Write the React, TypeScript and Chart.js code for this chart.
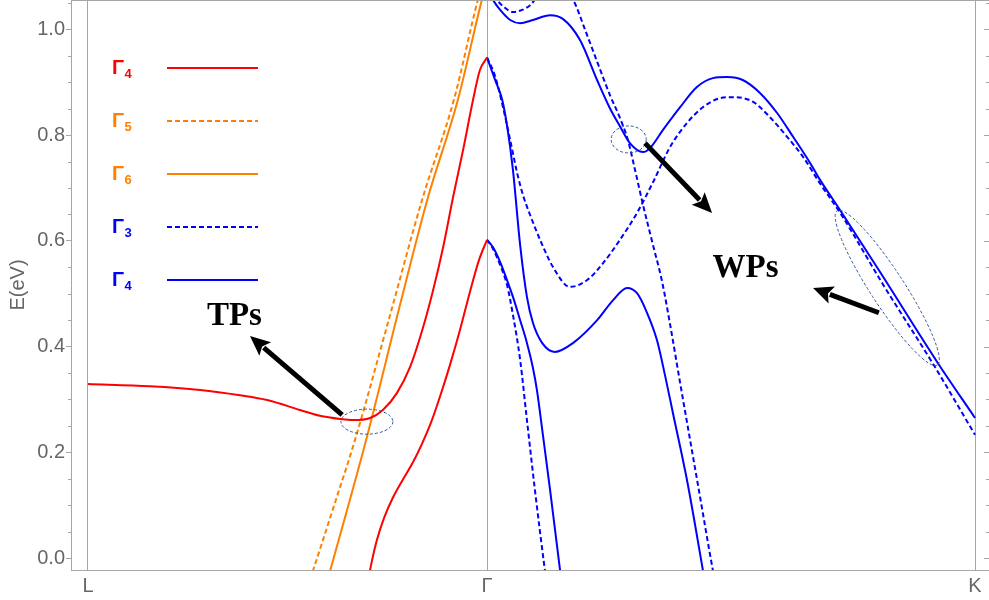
import { useEffect, useRef } from 'react';
import { Chart, registerables } from 'chart.js';

Chart.register(...registerables);

// ---- axes ----
const K_POS = 2.223;
const xTickValues = [0, 1, K_POS];
const xTickLabels = ['L', 'Γ', 'K'];
const yTickValues = [0, 0.2, 0.4, 0.6, 0.8, 1.0];
const yMinorStep = 0.05;

// ---- band data (x: k-path position, L=0, Γ=1, K=2.223; y: E in eV) ----
// Γ4 (red) upper band L–Γ
const redUpperX = [0, 0.155, 0.281, 0.381, 0.449, 0.531, 0.581, 0.632, 0.664, 0.707, 0.739, 0.774, 0.807, 0.840, 0.865, 0.890, 0.915, 0.940, 0.965, 0.982, 1.0];
const redUpperY = [0.329, 0.325, 0.318, 0.308, 0.299, 0.280, 0.269, 0.263, 0.261, 0.265, 0.280, 0.312, 0.361, 0.437, 0.507, 0.588, 0.683, 0.772, 0.867, 0.923, 0.947];
// Γ4 (red) lower band L–Γ
const redLowerX = [0.702, 0.712, 0.724, 0.742, 0.764, 0.789, 0.815, 0.837, 0.860, 0.882, 0.907, 0.932, 0.957, 0.980, 1.0];
const redLowerY = [-0.042, -0.004, 0.034, 0.076, 0.114, 0.148, 0.182, 0.216, 0.257, 0.305, 0.365, 0.431, 0.503, 0.564, 0.602];
// Γ5 (orange, dashed)
const orangeDashX = [0.557, 0.617, 0.669, 0.752, 0.837, 0.917, 0.977, 0.987];
const orangeDashY = [-0.04, 0.100, 0.223, 0.446, 0.677, 0.867, 1.056, 1.082];
// Γ6 (orange, solid)
const orangeSolidX = [0.600, 0.699, 0.782, 0.850, 0.927, 0.987, 0.995];
const orangeSolidY = [-0.043, 0.229, 0.479, 0.677, 0.867, 1.056, 1.078];
// Γ4 (blue) lower band Γ–K
const blueLowerSolidX = [1.0, 1.015, 1.033, 1.050, 1.065, 1.083, 1.100, 1.115, 1.125, 1.140, 1.158, 1.183, 1.187];
const blueLowerSolidY = [0.602, 0.588, 0.560, 0.526, 0.494, 0.450, 0.407, 0.360, 0.318, 0.233, 0.129, -0.023, -0.045];
// Γ3 (blue, dashed) lower band Γ–K
const blueLowerDashX = [1.0, 1.015, 1.033, 1.050, 1.065, 1.083, 1.100, 1.120, 1.145, 1.149];
const blueLowerDashY = [0.602, 0.585, 0.554, 0.517, 0.460, 0.375, 0.261, 0.129, -0.023, -0.045];
// Γ4 (blue) middle band Γ–K
const blueMidSolidX = [1.000, 1.020, 1.038, 1.050, 1.065, 1.083, 1.100, 1.115, 1.138, 1.170, 1.216, 1.276, 1.316, 1.351, 1.376, 1.401, 1.426, 1.446, 1.466, 1.501, 1.541, 1.546];
const blueMidSolidY = [0.947, 0.905, 0.867, 0.819, 0.734, 0.592, 0.494, 0.445, 0.407, 0.390, 0.407, 0.450, 0.488, 0.511, 0.501, 0.464, 0.412, 0.346, 0.274, 0.148, -0.023, -0.045];
// Γ3 (blue, dashed) middle band Γ–K
const blueMidDashX = [1.000, 1.020, 1.040, 1.058, 1.075, 1.090, 1.108, 1.133, 1.165, 1.208, 1.251, 1.291, 1.333, 1.376, 1.416, 1.459, 1.501, 1.541, 1.584, 1.617, 1.667, 1.709, 1.752, 1.792, 1.835, 1.885, 1.992, 2.118, 2.223];
const blueMidDashY = [0.947, 0.912, 0.853, 0.791, 0.730, 0.687, 0.649, 0.602, 0.551, 0.513, 0.526, 0.558, 0.602, 0.653, 0.711, 0.778, 0.823, 0.853, 0.870, 0.872, 0.863, 0.834, 0.797, 0.759, 0.708, 0.653, 0.518, 0.367, 0.233];
// Γ4 (blue) upper band Γ–K
const blueTopSolidX = [1.000, 1.015, 1.033, 1.058, 1.083, 1.115, 1.158, 1.190, 1.233, 1.276, 1.308, 1.333, 1.358, 1.391, 1.409, 1.441, 1.484, 1.526, 1.566, 1.602, 1.642, 1.684, 1.727, 1.767, 1.810, 1.835, 1.885, 1.985, 2.128, 2.223];
const blueTopSolidY = [1.078, 1.056, 1.037, 1.018, 1.012, 1.018, 1.027, 1.020, 0.980, 0.904, 0.851, 0.817, 0.785, 0.768, 0.776, 0.810, 0.853, 0.891, 0.908, 0.910, 0.904, 0.880, 0.842, 0.797, 0.747, 0.715, 0.658, 0.541, 0.371, 0.265];
// Γ3 (blue, dashed) upper band Γ–K
const blueTopDashX = [1.008, 1.025, 1.045, 1.065, 1.088, 1.108, 1.120, 1.145, 1.170, 1.195, 1.216, 1.246, 1.276, 1.308, 1.333, 1.353, 1.371, 1.391, 1.414, 1.439, 1.459, 1.484, 1.509, 1.534, 1.566, 1.574];
const blueTopDashY = [1.078, 1.056, 1.041, 1.033, 1.037, 1.046, 1.056, 1.075, 1.084, 1.075, 1.056, 0.999, 0.939, 0.876, 0.833, 0.791, 0.734, 0.668, 0.598, 0.522, 0.441, 0.331, 0.223, 0.115, -0.023, -0.053];

const RED = '#ff0000';
const ORANGE = '#ff8000';
const BLUE = '#0000ff';
const AXIS_GRAY = '#a6a6a6';
const TEXT_GRAY = '#666666';
const DASH = [5, 3];

const legendItems = [
  { label: 'Γ', sub: '4', color: RED, dashed: false },
  { label: 'Γ', sub: '5', color: ORANGE, dashed: true },
  { label: 'Γ', sub: '6', color: ORANGE, dashed: false },
  { label: 'Γ', sub: '3', color: BLUE, dashed: true },
  { label: 'Γ', sub: '4', color: BLUE, dashed: false },
];

// annotation anchors (data coordinates)
const annotationTexts = [
  { text: 'TPs', x: 0.367, y: 0.441 },
  { text: 'WPs', x: 1.648, y: 0.532 },
];
const annotationArrows = [
  { x1: 0.637, y1: 0.271, x2: 0.406, y2: 0.420 },
  { x1: 1.396, y1: 0.785, x2: 1.564, y2: 0.653 },
  { x1: 1.982, y1: 0.464, x2: 1.817, y2: 0.511 },
];
const annotationEllipses = [
  { x: 0.699, y: 0.258, rx: 26, ry: 12.5, rot: 0 },
  { x: 1.355, y: 0.792, rx: 17.5, ry: 13.5, rot: 0 },
  { x: 2.003, y: 0.511, rx: 92, ry: 17, rot: (57 * Math.PI) / 180 },
];

const toPts = (xs: number[], ys: number[]) => xs.map((x, i) => ({ x, y: ys[i] }));

const series = [
  { xs: redUpperX, ys: redUpperY, color: RED, dashed: false },
  { xs: redLowerX, ys: redLowerY, color: RED, dashed: false },
  { xs: orangeDashX, ys: orangeDashY, color: ORANGE, dashed: true },
  { xs: orangeSolidX, ys: orangeSolidY, color: ORANGE, dashed: false },
  { xs: blueLowerDashX, ys: blueLowerDashY, color: BLUE, dashed: true },
  { xs: blueLowerSolidX, ys: blueLowerSolidY, color: BLUE, dashed: false },
  { xs: blueMidDashX, ys: blueMidDashY, color: BLUE, dashed: true },
  { xs: blueMidSolidX, ys: blueMidSolidY, color: BLUE, dashed: false },
  { xs: blueTopDashX, ys: blueTopDashY, color: BLUE, dashed: true },
  { xs: blueTopSolidX, ys: blueTopSolidY, color: BLUE, dashed: false },
];

function drawArrow(ctx: CanvasRenderingContext2D, x1: number, y1: number, x2: number, y2: number) {
  const headLen = 20;
  const headHalf = 9;
  const ang = Math.atan2(y2 - y1, x2 - x1);
  const bx = x2 - headLen * Math.cos(ang);
  const by = y2 - headLen * Math.sin(ang);
  ctx.save();
  ctx.strokeStyle = '#000';
  ctx.fillStyle = '#000';
  ctx.lineWidth = 5;
  ctx.lineCap = 'butt';
  ctx.beginPath();
  ctx.moveTo(x1, y1);
  ctx.lineTo(bx + 2 * Math.cos(ang), by + 2 * Math.sin(ang));
  ctx.stroke();
  ctx.beginPath();
  ctx.moveTo(x2, y2);
  ctx.lineTo(bx - headHalf * Math.sin(ang), by + headHalf * Math.cos(ang));
  ctx.lineTo(bx + 4 * Math.cos(ang), by + 4 * Math.sin(ang));
  ctx.lineTo(bx + headHalf * Math.sin(ang), by - headHalf * Math.cos(ang));
  ctx.closePath();
  ctx.fill();
  ctx.restore();
}

const decorPlugin = {
  id: 'decor',
  afterDraw(chart: any) {
    const ctx: CanvasRenderingContext2D = chart.ctx;
    const { left, right, top } = chart.chartArea;
    const xs = chart.scales.x;
    const ys = chart.scales.y;
    ctx.save();
    // top frame
    ctx.strokeStyle = AXIS_GRAY;
    ctx.lineWidth = 1;
    ctx.beginPath();
    ctx.moveTo(left, top + 0.5);
    ctx.lineTo(right, top + 0.5);
    ctx.stroke();
    // minor ticks left and ticks right
    for (let k = 0; k * yMinorStep <= 1.05 + 1e-9; k++) {
      const v = k * yMinorStep;
      const py = Math.round(ys.getPixelForValue(v)) + 0.5;
      const major = k % 4 === 0;
      if (!major) {
        ctx.beginPath();
        ctx.moveTo(left - 3, py);
        ctx.lineTo(left, py);
        ctx.stroke();
      }
      const len = major ? 5 : 3;
      ctx.beginPath();
      ctx.moveTo(right - len, py);
      ctx.lineTo(right, py);
      ctx.stroke();
    }
    // legend
    legendItems.forEach((it, i) => {
      const ry = top + 68 + i * 53;
      ctx.fillStyle = it.color;
      ctx.textAlign = 'left';
      ctx.textBaseline = 'alphabetic';
      ctx.font = 'bold 20px "Liberation Sans", Arial, sans-serif';
      ctx.fillText(it.label, 112, ry + 6);
      ctx.font = 'bold 13px "Liberation Sans", Arial, sans-serif';
      ctx.fillText(it.sub, 124.5, ry + 10);
      ctx.strokeStyle = it.color;
      ctx.lineWidth = 2;
      ctx.setLineDash(it.dashed ? DASH : []);
      ctx.beginPath();
      ctx.moveTo(167, ry);
      ctx.lineTo(258, ry);
      ctx.stroke();
      ctx.setLineDash([]);
    });
    // ellipses
    ctx.strokeStyle = '#2f5597';
    ctx.lineWidth = 1;
    ctx.setLineDash([3, 2]);
    annotationEllipses.forEach((e) => {
      ctx.beginPath();
      ctx.ellipse(xs.getPixelForValue(e.x), ys.getPixelForValue(e.y), e.rx, e.ry, e.rot, 0, Math.PI * 2);
      ctx.stroke();
    });
    ctx.setLineDash([]);
    // arrows
    annotationArrows.forEach((a) => {
      drawArrow(ctx, xs.getPixelForValue(a.x1), ys.getPixelForValue(a.y1), xs.getPixelForValue(a.x2), ys.getPixelForValue(a.y2));
    });
    // texts
    ctx.fillStyle = '#000';
    ctx.font = 'bold 33px "Liberation Serif", "Times New Roman", serif';
    ctx.textAlign = 'center';
    ctx.textBaseline = 'alphabetic';
    annotationTexts.forEach((t) => {
      ctx.fillText(t.text, xs.getPixelForValue(t.x), ys.getPixelForValue(t.y));
    });
    ctx.restore();
  },
};

export default function App() {
  const ref = useRef<HTMLCanvasElement>(null);
  useEffect(() => {
    if (!ref.current) return;
    const chart = new Chart(ref.current, {
      type: 'scatter',
      data: {
        datasets: series.map((s) => ({
          data: toPts(s.xs, s.ys),
          showLine: true,
          borderColor: s.color,
          backgroundColor: s.color,
          borderWidth: 2,
          borderDash: s.dashed ? DASH : [],
          pointRadius: 0,
          pointHoverRadius: 0,
          cubicInterpolationMode: 'monotone',
          fill: false,
          clip: 0,
        })) as any,
      },
      options: {
        animation: false,
        responsive: false,
        devicePixelRatio: 1,
        events: [],
        layout: { padding: 0 },
        plugins: { legend: { display: false }, tooltip: { enabled: false } },
        scales: {
          x: {
            type: 'linear',
            min: -0.0426,
            max: 2.258,
            afterBuildTicks: (s: any) => {
              s.ticks = xTickValues.map((v) => ({ value: v }));
            },
            afterFit: (s: any) => {
              s.height = 30;
              s.paddingLeft = 0;
              s.paddingRight = 0;
            },
            ticks: {
              autoSkip: false,
              maxRotation: 0,
              color: TEXT_GRAY,
              padding: 4,
              font: { size: 20, family: '"Liberation Sans", Arial, sans-serif' },
              callback: (v: any) => {
                const i = xTickValues.findIndex((t) => Math.abs(t - v) < 1e-6);
                return i >= 0 ? xTickLabels[i] : '';
              },
            },
            grid: { color: AXIS_GRAY, lineWidth: 1, drawTicks: false },
            border: { color: AXIS_GRAY },
          },
          y: {
            type: 'linear',
            min: -0.0227,
            max: 1.0558,
            afterBuildTicks: (s: any) => {
              s.ticks = yTickValues.map((v) => ({ value: v }));
            },
            afterFit: (s: any) => {
              s.width = 71;
              s.paddingTop = 0;
              s.paddingBottom = 0;
            },
            ticks: {
              color: TEXT_GRAY,
              padding: 1,
              font: { size: 20, family: '"Liberation Sans", Arial, sans-serif' },
              callback: (v: any) => Number(v).toFixed(1),
            },
            grid: { drawOnChartArea: false, tickLength: 5, color: AXIS_GRAY },
            border: { color: AXIS_GRAY },
            title: {
              display: true,
              text: 'E(eV)',
              color: TEXT_GRAY,
              font: { size: 20, family: '"Liberation Sans", Arial, sans-serif' },
              padding: { top: 6, bottom: 0 },
            },
          },
        },
      } as any,
      plugins: [decorPlugin],
    });
    return () => chart.destroy();
  }, []);
  return (
    <div style={{ position: 'absolute', left: 0, top: 0, width: 989, height: 600, background: '#fff' }}>
      <canvas ref={ref} width={989} height={600} style={{ display: 'block', width: 989, height: 600 }} />
    </div>
  );
}
